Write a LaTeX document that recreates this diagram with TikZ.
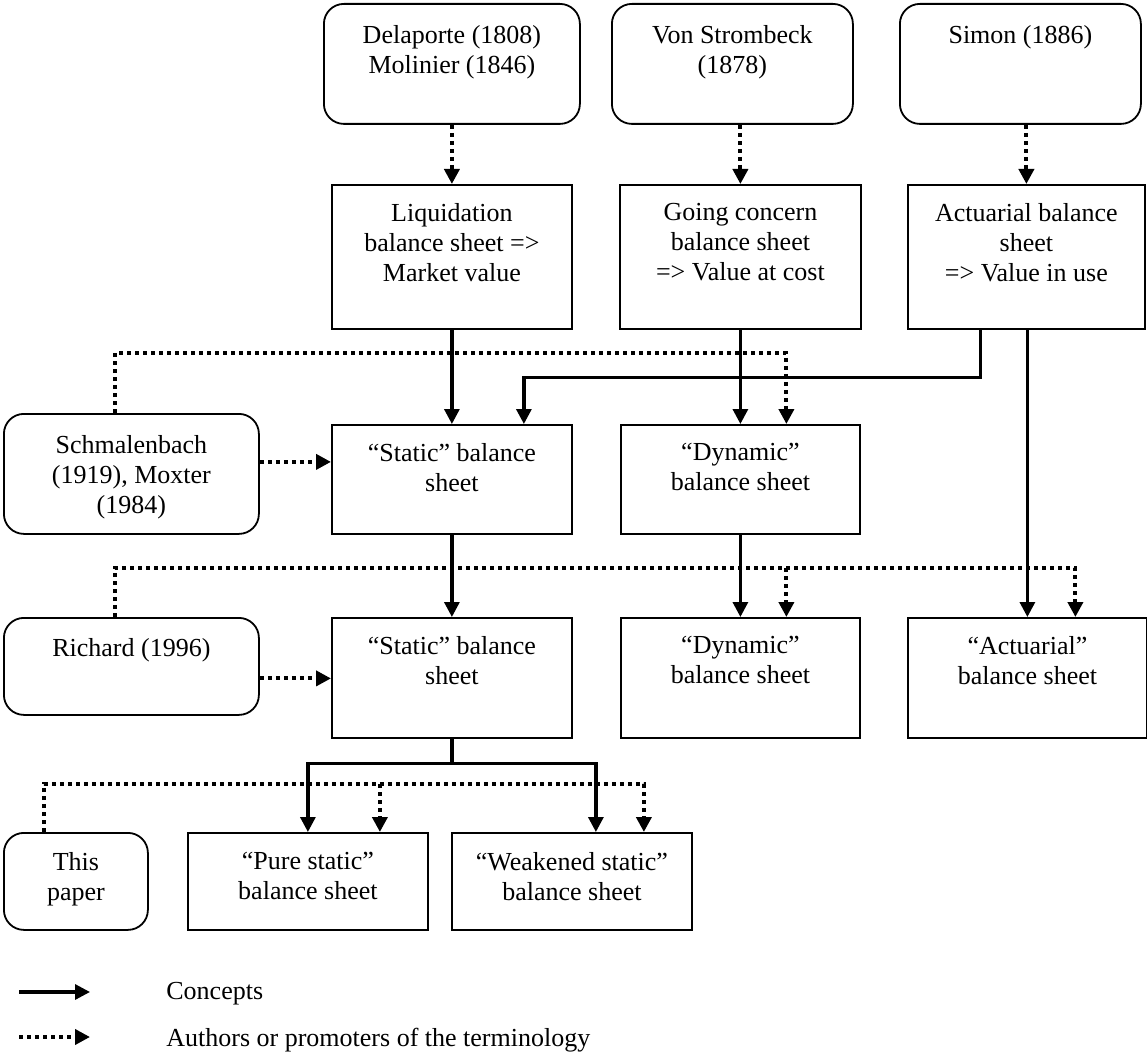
\documentclass[tikz,border=0pt]{standalone}
\usepackage{fontspec}
\setmainfont{Liberation Serif}
\usetikzlibrary{arrows.meta}
\tikzset{
  box/.style={draw, line width=0.9pt, anchor=north west, inner sep=0pt},
  rbox/.style={box, rounded corners=10pt},
  lbl/.style={anchor=north, align=center, inner sep=0pt, font=\fontsize{13}{15}\selectfont},
  legtext/.style={anchor=base west, inner sep=0pt, font=\fontsize{13}{15}\selectfont},
  concept/.style={line width=1.6pt, -{Triangle[length=7.5pt,width=7.5pt]}},
  author/.style={line width=2pt, dash pattern=on 2pt off 2pt, -{Triangle[length=7.5pt,width=7.5pt]}},
}
\begin{document}
\begin{tikzpicture}[x=0.5pt,y=-0.5pt]
    \useasboundingbox (0,0) rectangle (1147,1054);
    % authors, first row
    \node[rbox, minimum width=128pt, minimum height=60pt] (del) at (323,3) {};
    \node[rbox, minimum width=120.5pt, minimum height=60pt] (von) at (611,3) {};
    \node[rbox, minimum width=120.5pt, minimum height=60pt] (sim) at (899,3) {};
    \node[lbl] (delT) at ([yshift=-11pt]del.north) {Delaporte (1808)\\Molinier (1846)};
    \node[lbl] (vonT) at ([yshift=-11pt]von.north) {Von Strombeck\\(1878)};
    \node[lbl] (simT) at ([yshift=-11pt]sim.north) {Simon (1886)};
    % concepts, second row
    \node[box, minimum width=120pt, minimum height=72pt] (liq) at (331,184) {};
    \node[box, minimum width=120.5pt, minimum height=72pt] (goc) at (619,184) {};
    \node[box, minimum width=118.5pt, minimum height=72pt] (act) at (907,184) {};
    \node[lbl] (liqT) at ([yshift=-9.5pt]liq.north) {Liquidation\\balance sheet =>\\Market value};
    \node[lbl] (gocT) at ([yshift=-9.5pt]goc.north) {Going concern\\balance sheet\\=> Value at cost};
    \node[lbl] (actT) at ([yshift=-9.5pt]act.north) {Actuarial balance\\sheet\\=> Value in use};
    % third row
    \node[rbox, minimum width=127.5pt, minimum height=60pt] (sch) at (3,413) {};
    \node[box, minimum width=120pt, minimum height=54.5pt] (st1) at (331,424) {};
    \node[box, minimum width=119.5pt, minimum height=54.5pt] (dy1) at (620,424) {};
    \node[lbl] (schT) at ([yshift=-11pt]sch.north) {Schmalenbach\\(1919), Moxter\\(1984)};
    \node[lbl] (st1T) at ([yshift=-9.5pt]st1.north) {“Static” balance\\sheet};
    \node[lbl] (dy1T) at ([yshift=-9.5pt]dy1.north) {“Dynamic”\\balance sheet};
    % fourth row
    \node[rbox, minimum width=127.5pt, minimum height=48.5pt] (ric) at (3,617) {};
    \node[box, minimum width=120pt, minimum height=60pt] (st2) at (331,617) {};
    \node[box, minimum width=119.5pt, minimum height=60pt] (dy2) at (620,617) {};
    \node[box, minimum width=119.5pt, minimum height=60pt] (ac2) at (907,617) {};
    \node[lbl] (ricT) at ([yshift=-10.5pt]ric.north) {Richard (1996)};
    \node[lbl] (st2T) at ([yshift=-9.5pt]st2.north) {“Static” balance\\sheet};
    \node[lbl] (dy2T) at ([yshift=-9.5pt]dy2.north) {“Dynamic”\\balance sheet};
    \node[lbl] (ac2T) at ([yshift=-9.5pt]ac2.north) {“Actuarial”\\balance sheet};
    % fifth row
    \node[rbox, minimum width=72pt, minimum height=48.5pt] (thp) at (3,832) {};
    \node[box, minimum width=120pt, minimum height=48.5pt] (pur) at (187,832) {};
    \node[box, minimum width=120pt, minimum height=48.5pt] (wea) at (451,832) {};
    \node[lbl] (thpT) at ([yshift=-10pt]thp.north) {This\\paper};
    \node[lbl] (purT) at ([yshift=-10pt]pur.north) {“Pure static”\\balance sheet};
    \node[lbl] (weaT) at ([yshift=-10pt]wea.north) {“Weakened static”\\balance sheet};

    % authors to concepts
    \draw[author] (del.south) -- (liq.north);
    \draw[author] (von.south -| goc.north) -- (goc.north);
    \draw[author] (sim.south -| act.north) -- (act.north);
    \draw[author] ([yshift=6pt]sch.east) -- ([yshift=6pt]sch.east -| st1.west);
    \draw[author] ([yshift=-6pt]ric.east) -- ([yshift=-6pt]ric.east -| st2.west);

    % concepts
    \draw[concept] (liq.south) -- (st1.north);
    \draw[concept] (goc.south) -- (dy1.north);
    \draw[concept] ([xshift=-23pt]act.south) -- ++(0,48) -| ([xshift=36pt]st1.north);
    \draw[concept] (act.south -| ac2.north) -- (ac2.north);
    \draw[concept] (st1.south) -- (st2.north);
    \draw[concept] (dy1.south) -- (dy2.north);
    \draw[concept] (st2.south) -- ++(0,25) coordinate (fork) -| (pur.north);
    \draw[concept] (fork) -| ([xshift=12pt]wea.north);

    % terminology
    \coordinate (dy1t) at ([xshift=23pt]dy1.north);
    \draw[author] ([xshift=-8pt]sch.north) -- ++(0,-60) -| (dy1t);
    \coordinate (dy2t) at ([xshift=23pt]dy2.north);
    \draw[author] ([xshift=-8pt]ric.north) -- ++(0,-49) coordinate (rc) -| ([xshift=24pt]ac2.north);
    \draw[author] (rc -| dy2t) -- (dy2t);
    \coordinate (purt) at ([xshift=36pt]pur.north);
    \draw[author] ([xshift=-16pt]thp.north) -- ++(0,-48) coordinate (tc) -| ([xshift=36pt]wea.north);
    \draw[author] (tc -| purt) -- (purt);

    % legend
    \coordinate (lc1) at (19,992);
    \coordinate (lc2) at (90,992);
    \coordinate (la1) at (19,1037);
    \coordinate (la2) at (90,1037);
    \draw[concept] (lc1) -- (lc2);
    \draw[author] (la1) -- (la2);
    \node[legtext] (lcT) at (166,999) {Concepts};
    \node[legtext] (laT) at (166,1046) {Authors or promoters of the terminology};
\end{tikzpicture}
\end{document}
